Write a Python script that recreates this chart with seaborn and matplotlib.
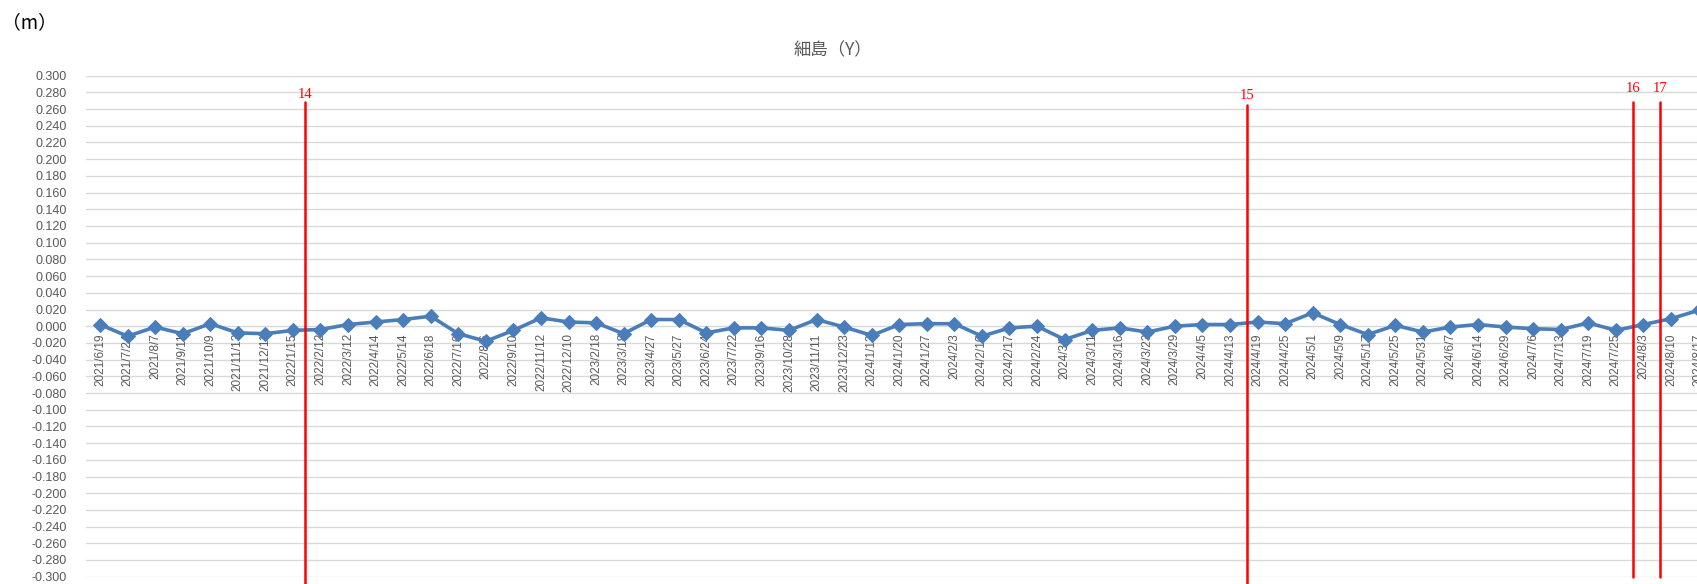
import matplotlib
matplotlib.use("Agg")
import matplotlib.pyplot as plt
import numpy as np
import pandas as pd
import seaborn as sns

# survey dates (category axis)
DATES = [
    "2021/6/19", "2021/7/24", "2021/8/7", "2021/9/11", "2021/10/9", "2021/11/13",
    "2021/12/11", "2022/1/15", "2022/2/12", "2022/3/12", "2022/4/14", "2022/5/14",
    "2022/6/18", "2022/7/16", "2022/8/6", "2022/9/10", "2022/11/12", "2022/12/10",
    "2023/2/18", "2023/3/18", "2023/4/27", "2023/5/27", "2023/6/24", "2023/7/22",
    "2023/9/16", "2023/10/28", "2023/11/11", "2023/12/23", "2024/1/13", "2024/1/20",
    "2024/1/27", "2024/2/3", "2024/2/10", "2024/2/17", "2024/2/24", "2024/3/2",
    "2024/3/11", "2024/3/16", "2024/3/23", "2024/3/29", "2024/4/5", "2024/4/13",
    "2024/4/19", "2024/4/25", "2024/5/1", "2024/5/9", "2024/5/17", "2024/5/25",
    "2024/5/31", "2024/6/7", "2024/6/14", "2024/6/29", "2024/7/6", "2024/7/13",
    "2024/7/19", "2024/7/25", "2024/8/3", "2024/8/10", "2024/8/17",
]
# displacement Y (m)
DISP_Y = [
    0.002, -0.012, -0.001, -0.009, 0.003, -0.008,
    -0.009, -0.005, -0.004, 0.002, 0.005, 0.008,
    0.012, -0.009, -0.018, -0.005, 0.010, 0.005,
    0.004, -0.009, 0.008, 0.008, -0.008, -0.002,
    -0.002, -0.005, 0.008, -0.001, -0.011, 0.002,
    0.003, 0.003, -0.012, -0.002, 0.000, -0.016,
    -0.005, -0.002, -0.007, 0.000, 0.002, 0.002,
    0.005, 0.003, 0.016, 0.002, -0.010, 0.001,
    -0.007, -0.001, 0.002, -0.001, -0.003, -0.004,
    0.004, -0.005, 0.002, 0.009, 0.019,
]
# event markers: label, position on category axis, top of line, label height, bottom of line
EVENT_LABELS = ["14", "15", "16", "17"]
EVENT_POS = [7.45, 41.62, 55.61, 56.61]
EVENT_TOP = [0.2685, 0.265, 0.268, 0.268]
EVENT_TEXT_Y = [0.278, 0.276, 0.285, 0.285]
EVENT_BOTTOM = [-0.34, -0.34, -0.300, -0.300]

Y_TICKS = np.round(np.arange(-0.300, 0.3001, 0.020), 3)

sns.set_theme(style="white")
plt.rcParams["font.family"] = ["Liberation Sans", "Noto Sans CJK JP", "DejaVu Sans"]

df = pd.DataFrame({"idx": np.arange(len(DATES)), "date": DATES, "y": DISP_Y})

fig = plt.figure(figsize=(16.97, 5.84), dpi=100)
ax = fig.add_axes([86.2 / 1697, 1 - 576.7 / 584, (1712.3 - 86.2) / 1697, (576.7 - 75.7) / 584])

for yt in Y_TICKS:
    ax.axhline(yt, color="#d9d9d9", lw=1.0, zorder=0)

sns.lineplot(data=df, x="idx", y="y", ax=ax, color="#4a7ebb", lw=2.6,
             marker="D", markersize=7, markeredgecolor="#4a7ebb", zorder=3)

for lab, xp, top, ty, bot in zip(EVENT_LABELS, EVENT_POS, EVENT_TOP, EVENT_TEXT_Y, EVENT_BOTTOM):
    ax.plot([xp, xp], [bot, top], color="#ff0000", lw=1.8, clip_on=False, zorder=4)
    ax.text(xp, ty, lab, color="#ff0000", ha="center", va="center", fontsize=10.5,
            family=["Liberation Serif", "DejaVu Serif"])

# horizontal axis crosses at zero; set before the tick labels (it resets ticks)
ax.spines["bottom"].set_position(("data", 0))
for s in ("top", "right", "left", "bottom"):
    ax.spines[s].set_visible(False)

ax.set_xlim(-0.5, len(DATES) - 0.5)
ax.set_ylim(-0.300, 0.300)
ax.set_yticks(Y_TICKS)
ax.set_yticklabels([f"{v:.3f}" for v in Y_TICKS], fontsize=9, color="#595959")
ax.set_xticks(df["idx"])
ax.set_xticklabels(DATES, rotation=90, fontsize=8.5, color="#595959", va="top", ha="center")
ax.tick_params(axis="y", length=0, pad=14)
ax.tick_params(axis="x", length=0, pad=5)
ax.set_xlabel("")
ax.set_ylabel("")

fig.text(833 / 1697, 1 - 50 / 584, "細島（Y）", ha="center", va="center", fontsize=12.5,
         color="#595959", family=["Noto Sans CJK JP", "DejaVu Sans"])
fig.text(2 / 1697, 1 - 23 / 584, "（m）", ha="left", va="center", fontsize=13.5,
         color="#000000", family=["Noto Sans CJK JP", "DejaVu Sans"])

fig.savefig("out.png", dpi=100)
